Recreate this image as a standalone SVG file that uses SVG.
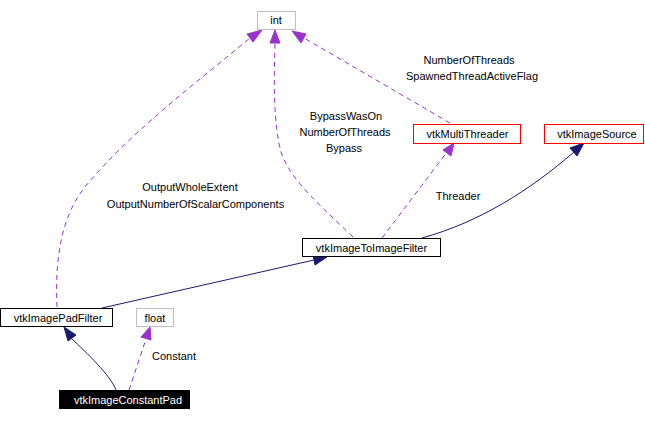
<svg xmlns="http://www.w3.org/2000/svg" width="645" height="421" viewBox="0 0 645 421">
<style>
  text { font-family: "Liberation Sans", Arial, sans-serif; font-size: 11px; fill: #000; text-anchor: middle; }
  .box { fill: #fff; stroke: #000; stroke-width: 1; }
  .gray { fill: #fff; stroke: #bfbfbf; stroke-width: 1; }
  .red { fill: #fff; stroke: #ff0000; stroke-width: 1; }
  .dark { fill: #000; stroke: #000; stroke-width: 1; }
  .dark + text, .white { fill: #fff; }
  .dash { fill: none; stroke: #9a32cd; stroke-width: 1; stroke-dasharray: 5,4; }
  .solid { fill: none; stroke: #191970; stroke-width: 1; }
  .ahp { fill: #9a32cd; stroke: #9a32cd; }
  .ahs { fill: #191970; stroke: #191970; }
</style>
<rect width="645" height="421" fill="#fff"/>
<g id="connectors">
  <path class="dash" d="M57,307 C55,262 60,218 85,187 C130,132 200,80 250,38"/>
  <polygon class="ahp" points="262,30 253,42 247,34"/>
  <path class="dash" d="M353,237 C322,207 290,180 281,152 C273,122 274,80 275,43"/>
  <polygon class="ahp" points="275,30 280,43 270,43"/>
  <path class="dash" d="M450,123 L304,38"/>
  <polygon class="ahp" points="292,31 306,34 301,43"/>
  <path class="dash" d="M382,238 L447,152"/>
  <polygon class="ahp" points="454,143 451,156 443,150"/>
  <path class="solid" d="M422,238 C480,222 530,190 574,152"/>
  <polygon class="ahs" points="584,143 577,156 570,148"/>
  <path class="solid" d="M102,308 L314,260"/>
  <polygon class="ahs" points="327,257 315,265 313,255"/>
  <path class="solid" d="M116,390 C111,376 86,352 72,339"/>
  <polygon class="ahs" points="64,327 76,335 68,341"/>
  <path class="dash" d="M129,390 L146,339"/>
  <polygon class="ahp" points="150,327 151,340 141,337"/>
</g>
<g id="labels">
  <text x="469" y="64">NumberOfThreads</text>
  <text x="472" y="80">SpawnedThreadActiveFlag</text>
  <text x="346" y="120">BypassWasOn</text>
  <text x="345" y="136">NumberOfThreads</text>
  <text x="344" y="152">Bypass</text>
  <text x="190" y="191">OutputWholeExtent</text>
  <text x="195.5" y="208">OutputNumberOfScalarComponents</text>
  <text x="458" y="200">Threader</text>
  <text x="174" y="360">Constant</text>
</g>
<g id="node-int">
  <rect class="gray" x="257.5" y="11.5" width="38" height="18"/>
  <text x="276" y="24">int</text>
</g>
<g id="node-vtkMultiThreader">
  <rect class="red" x="413.5" y="124.5" width="107" height="19"/>
  <text x="467.5" y="138">vtkMultiThreader</text>
</g>
<g id="node-vtkImageSource">
  <rect class="red" x="544.5" y="124.5" width="99" height="19"/>
  <text x="597" y="138">vtkImageSource</text>
</g>
<g id="node-vtkImageToImageFilter">
  <rect class="box" x="302.5" y="238.5" width="138" height="18"/>
  <text x="371.5" y="251.5">vtkImageToImageFilter</text>
</g>
<g id="node-vtkImagePadFilter">
  <rect class="box" x="0.5" y="308.5" width="112" height="18"/>
  <text x="58" y="321.5">vtkImagePadFilter</text>
</g>
<g id="node-float">
  <rect class="gray" x="136.5" y="308.5" width="37" height="18"/>
  <text x="155" y="321.5">float</text>
</g>
<g id="node-vtkImageConstantPad">
  <rect class="dark" x="59.5" y="390.5" width="130" height="18"/>
  <text class="white" x="128" y="403.5">vtkImageConstantPad</text>
</g>
</svg>
